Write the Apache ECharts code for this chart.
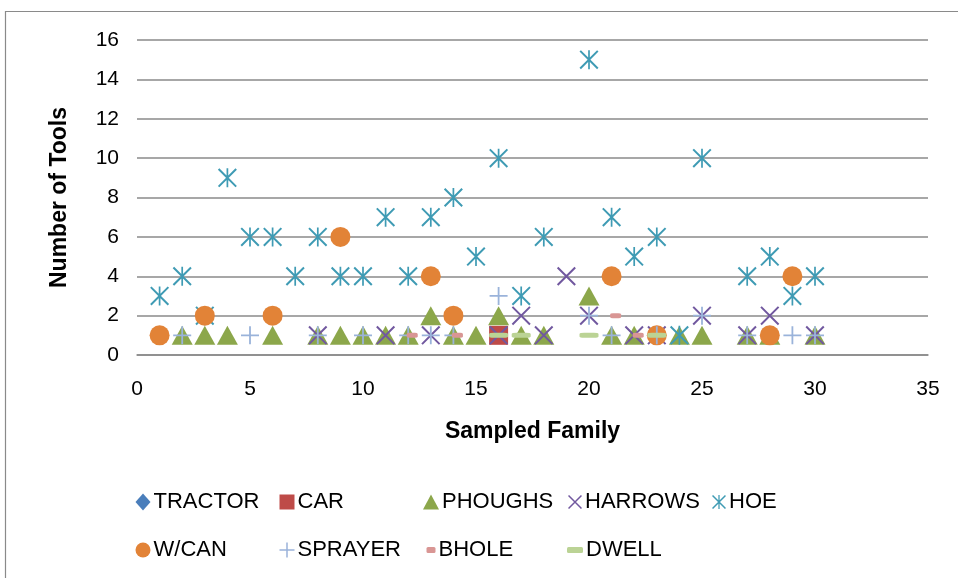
<!DOCTYPE html>
<html>
<head>
<meta charset="utf-8">
<script src="https://cdn.jsdelivr.net/npm/echarts@6/dist/echarts.min.js"></script>
<style>
  html, body { margin: 0; padding: 0; background: #fff; }
  #chart { width: 958px; height: 578px; }
</style>
</head>
<body>
<div id="chart"></div>
<script>
// sampled families 1..30, one value per family (null = not drawn)
const families = [1,2,3,4,5,6,7,8,9,10,11,12,13,14,15,16,17,18,19,20,21,22,23,24,25,26,27,28,29,30];
const tractor  = [];
const car      = [null,null,null,null,null,null,null,null,null,null, null,null,null,null,null,1,null,null,null,null, null,null,null,null,null,null,null,null,null,null];
const phoughs  = [null,1,1,1,null,1,null,1,1,1, 1,1,2,1,1,2,1,1,null,3, 1,1,null,1,1,null,1,1,null,1];
const harrows  = [null,null,null,null,null,null,null,1,null,null, 1,null,1,null,null,1,2,1,4,2, null,1,1,null,2,null,1,2,null,1];
const hoe      = [3,4,2,9,6,6,4,6,4,4, 7,4,7,8,5,10,3,6,null,15, 7,5,6,1,10,null,4,5,3,4];
const wcan     = [1,null,2,null,null,2,null,null,6,null, null,null,4,2,null,null,null,null,null,null, 4,null,1,null,null,null,null,1,4,null];
const sprayer  = [null,1,null,null,1,null,null,1,null,1, null,1,1,1,null,3,null,null,null,2, 1,null,1,null,2,null,1,null,1,1];
const bhole    = [null,null,null,null,null,null,null,null,null,null, null,1,null,1,null,null,null,null,null,null, 2,1,null,null,null,null,null,null,null,null];
const dwell    = [null,null,null,null,null,null,null,null,null,null, null,null,null,null,null,1,1,null,null,1, null,null,1,null,null,null,null,null,null,null];

const yTicks = [0, 16, 2];   // min, max, step
const xTicks = [0, 35, 5];

const xMark = 'path://M0,1.5L1.5,0L20,18.5L18.5,20Z M18.5,0L20,1.5L1.5,20L0,18.5Z';
const starMark = 'path://M0,1.5L1.5,0L20,18.5L18.5,20Z M18.5,0L20,1.5L1.5,20L0,18.5Z M9.1,0H10.9V20H9.1Z';
const plusMark = 'path://M9,0H11V9H20V11H11V20H9V11H0V9H9Z';

function pts(vals) {
    return families.map((f, i) => [f, vals[i]]).filter(p => p[1] != null);
}

// name, values, symbol, size, colour, legend icon size, legend column/row
const seriesDefs = [
    ['TRACTOR', tractor, 'diamond', 14, '#4A7EBB', [15, 17], 0, 0],
    ['CAR', car, 'rect', 19, '#BE4B48', [15, 15], 1, 0],
    ['PHOUGHS', phoughs, 'triangle', [21, 19], '#8CA74B', [16, 15], 2, 0],
    ['HARROWS', harrows, xMark, 19, '#71589F', [14, 15], 3, 0],
    ['HOE', hoe, starMark, 19, '#3F9BB4', [14, 15], 4, 0],
    ['W/CAN', wcan, 'circle', 20, '#E28337', [15, 18], 0, 1],
    ['SPRAYER', sprayer, plusMark, 18, '#9AB3DA', [15, 15], 1, 1],
    ['BHOLE', bhole, 'roundRect', [11, 5], '#D99694', [9, 6], 2, 1],
    ['DWELL', dwell, 'roundRect', [19, 5], '#BBD395', [16, 6], 3, 1]
];

const font = 'Liberation Sans, Arial, sans-serif';

let myChart = echarts.init(document.getElementById('chart'));
let options = {
    animation: false,
    graphic: [{
        type: 'rect',
        shape: { x: 5.5, y: 11.5, width: 1200, height: 1200 },
        style: { fill: 'none', stroke: '#8a8a8a', lineWidth: 1.2 },
        silent: true
    }],
    grid: { left: 137, right: 30, top: 40, bottom: 223 },
    xAxis: {
        type: 'value',
        min: xTicks[0], max: xTicks[1], interval: xTicks[2],
        name: 'Sampled Family',
        nameLocation: 'middle',
        nameGap: 65,
        nameTextStyle: { fontFamily: font, fontWeight: 'bold', fontSize: 23, color: '#000' },
        axisLine: { show: true, lineStyle: { color: '#8a8a8a', width: 1.5 } },
        axisTick: { show: false },
        splitLine: { show: false },
        axisLabel: { margin: 24, fontFamily: font, fontSize: 21, color: '#000' }
    },
    yAxis: {
        type: 'value',
        min: yTicks[0], max: yTicks[1], interval: yTicks[2],
        name: 'Number of Tools',
        nameLocation: 'middle',
        nameGap: 66,
        nameTextStyle: { fontFamily: font, fontWeight: 'bold', fontSize: 23, color: '#000' },
        axisLine: { show: false },
        axisTick: { show: false },
        splitLine: { show: true, lineStyle: { color: '#8a8a8a', width: 1.5 } },
        axisLabel: { margin: 18, fontFamily: font, fontSize: 21, color: '#000' }
    },
    legend: seriesDefs.map(d => ({
        data: [d[0]],
        left: 143 + 144 * d[6] - d[5][0] / 2,
        top: d[7] === 0 ? 491 : 539,
        padding: 0,
        itemWidth: d[5][0],
        itemHeight: d[5][1],
        selectedMode: false,
        textStyle: { fontFamily: font, fontSize: 22, color: '#000', padding: [0, 0, 0, -2] }
    })),
    series: seriesDefs.map((d, i) => ({
        name: d[0],
        type: 'scatter',
        data: pts(d[1]),
        symbol: d[2],
        symbolSize: d[3],
        symbolOffset: d[0] === 'BHOLE' ? [4, 0] : [0, 0],
        itemStyle: { color: d[4], opacity: 1 },
        emphasis: { disabled: true },
        z: 2 + i * 0.01
    }))
};
myChart.setOption(options);
</script>
</body>
</html>
